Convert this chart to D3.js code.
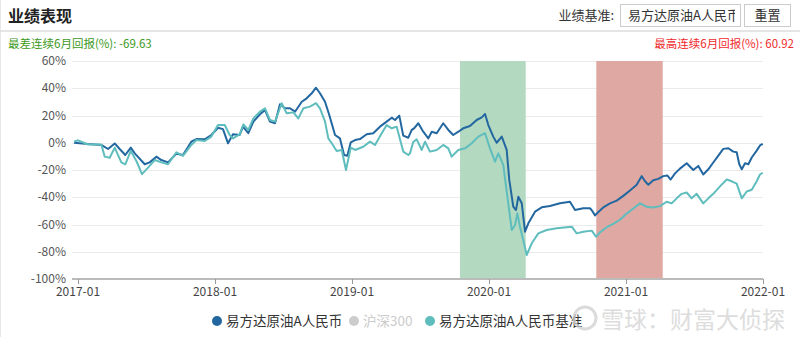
<!DOCTYPE html>
<html>
<head>
<meta charset="utf-8">
<script src="https://cdn.jsdelivr.net/npm/d3@7"></script>
<style>
  body { margin: 0; background: #fff; }
  svg { display: block; font-family: "Noto Sans CJK SC", "Noto Sans", sans-serif; }
</style>
</head>
<body>
<svg id="chart" width="800" height="337"></svg>
<script>
// time as decimal years, values in %
const fundT = [2016.971, 2017.073, 2017.170, 2017.219, 2017.268, 2017.304, 2017.345, 2017.385, 2017.414, 2017.487,
  2017.523, 2017.572, 2017.608, 2017.657, 2017.718, 2017.766, 2017.827, 2017.864, 2017.925, 2017.973,
  2018.022, 2018.058, 2018.095, 2018.131, 2018.180, 2018.204, 2018.243, 2018.280, 2018.328, 2018.365,
  2018.401, 2018.438, 2018.474, 2018.511, 2018.547, 2018.584, 2018.633, 2018.669, 2018.706, 2018.737,
  2018.766, 2018.803, 2018.834, 2018.876, 2018.912, 2018.942, 2018.966, 2018.991, 2019.022, 2019.058,
  2019.107, 2019.155, 2019.204, 2019.253, 2019.290, 2019.314, 2019.345, 2019.374, 2019.411, 2019.436,
  2019.453, 2019.484, 2019.520, 2019.557, 2019.582, 2019.618, 2019.666, 2019.703, 2019.739, 2019.776,
  2019.812, 2019.861, 2019.910, 2019.947, 2019.971, 2019.995, 2020.031, 2020.056, 2020.093, 2020.129,
  2020.148, 2020.177, 2020.197, 2020.214, 2020.239, 2020.263, 2020.287, 2020.336, 2020.385, 2020.445,
  2020.518, 2020.591, 2020.628, 2020.688, 2020.737, 2020.750, 2020.774, 2020.798, 2020.834, 2020.883,
  2020.932, 2020.980, 2021.029, 2021.078, 2021.114, 2021.139, 2021.163, 2021.199, 2021.236, 2021.272,
  2021.301, 2021.326, 2021.358, 2021.394, 2021.443, 2021.491, 2021.528, 2021.564, 2021.601, 2021.637,
  2021.674, 2021.710, 2021.747, 2021.783, 2021.808, 2021.827, 2021.845, 2021.869, 2021.893, 2021.918,
  2021.954, 2021.978, 2021.998];
const fund = [0, -1, -1.6, -4.6, -0.5, -4.6, -9, -3.6, -7.8, -15.8,
  -14.4, -10.2, -12.7, -14.4, -8, -9, 0.8, 2.7, 2.5, 5.7,
  11, 10, -0.4, 6.2, 5.7, 11.8, 7, 15.5, 20.9, 24,
  15.5, 14.3, 28.2, 25.3, 25.3, 22.8, 30.1, 32.6, 36.3, 40.4,
  36.3, 30.1, 20.4, 5.7, 3.2, -9, -9.5, 0.3, 2, 2.7,
  6.2, 7, 11.8, 15.5, 18.4, 16.7, 19.9, 5.2, 3.7, 9.4,
  10.6, 14.3, 8.1, 3.2, 8.1, 7, 14.3, 9.4, 5.7, 8.1,
  10.6, 12.3, 16.7, 18.6, 21.1, 13, 4.5, 0, 4.5, -5.3,
  -27.3, -46.9, -49.4, -39.6, -44.4, -65.3, -59.1, -50.6, -47.4, -46.4,
  -44.4, -43.3, -49.4, -48.1, -48.1, -49.5, -53.3, -50.8, -47.5, -44.5,
  -42.5, -39, -35, -30.8, -24.5, -28.3, -30.8, -27.5, -26.5, -24.5,
  -24, -27, -22.5, -19, -15, -20, -17, -23.3, -19.5, -14.5,
  -9.5, -4.5, -4, -6.5, -7, -15.8, -19.5, -15, -15.8, -10.8,
  -5.8, -2, -0.8];

const benchT = [2016.971, 2017.000, 2017.073, 2017.170, 2017.195, 2017.231, 2017.268, 2017.316, 2017.345, 2017.385,
  2017.426, 2017.467, 2017.506, 2017.560, 2017.608, 2017.657, 2017.718, 2017.766, 2017.827, 2017.864,
  2017.925, 2017.973, 2018.022, 2018.071, 2018.107, 2018.131, 2018.180, 2018.207, 2018.243, 2018.280,
  2018.328, 2018.365, 2018.401, 2018.438, 2018.487, 2018.523, 2018.572, 2018.608, 2018.645, 2018.693,
  2018.737, 2018.766, 2018.803, 2018.827, 2018.852, 2018.888, 2018.925, 2018.956, 2018.991, 2019.022,
  2019.082, 2019.131, 2019.168, 2019.217, 2019.253, 2019.290, 2019.326, 2019.374, 2019.411, 2019.423,
  2019.447, 2019.472, 2019.509, 2019.533, 2019.569, 2019.618, 2019.666, 2019.703, 2019.727, 2019.776,
  2019.825, 2019.874, 2019.922, 2019.971, 2020.007, 2020.044, 2020.068, 2020.104, 2020.134, 2020.166,
  2020.190, 2020.207, 2020.226, 2020.250, 2020.275, 2020.312, 2020.360, 2020.421, 2020.494, 2020.567,
  2020.604, 2020.640, 2020.688, 2020.750, 2020.781, 2020.810, 2020.859, 2020.907, 2020.956, 2021.005,
  2021.053, 2021.102, 2021.151, 2021.199, 2021.248, 2021.297, 2021.333, 2021.370, 2021.406, 2021.443,
  2021.479, 2021.516, 2021.564, 2021.601, 2021.637, 2021.686, 2021.735, 2021.772, 2021.808, 2021.845,
  2021.881, 2021.918, 2021.954, 2021.978, 2021.998];
const bench = [0.8, 1.8, -1.3, -1.3, -10.2, -11, -3.6, -14.4, -15.8, -6,
  -13.4, -23, -18.8, -12.7, -14.4, -15.8, -7, -9.7, -1.6, 2,
  1.3, 4.5, 13, 13, 5.7, 3.2, 6.2, 13.5, 9.4, 17.9,
  22.8, 25.3, 16.7, 15.5, 29, 21.6, 22.3, 17.9, 25.3, 26.5,
  29, 25.3, 15.5, 3.2, -0.4, -6, -5.3, -20, -3.6, -5.3,
  -2.9, 0.8, -1.6, 7, 13, 10.6, 11.8, -6.5, -9, -7.8,
  0.5, 2.5, -5.3, 0.8, -6.5, -5.3, -1.6, -4.1, -10.2, -5.3,
  -4.1, -0.4, 4.5, 7, -4.1, -13.9, -7.8, -16.3, -39.6, -64,
  -60.4, -51.8, -61.6, -71.4, -82.4, -73.8, -66.5, -64, -62.8, -62,
  -61.6, -66.5, -65.3, -64.5, -69, -65.8, -62, -59.5, -56.5, -52,
  -48.3, -44.5, -47, -47.5, -46.5, -43.3, -44.5, -40.8, -37.5, -36.5,
  -40.8, -37.5, -44.5, -40.8, -37.5, -32, -27, -28.3, -30, -40.8,
  -35.8, -34.5, -28.3, -23.3, -22];

// worst / best 6-month windows
const bandStart = [2019.788, 2020.783];
const bandEnd = [2020.268, 2021.268];
const bandColor = ['#b3d9c1', '#dfa8a3'];

const yTicks = [60, 40, 20, 0, -20, -40, -60, -80, -100];
const xTicks = [2017, 2018, 2019, 2020, 2021, 2022];

const seriesNames = ['易方达原油A人民币', '沪深300', '易方达原油A人民币基准'];
const seriesColors = ['#2367a0', '#cccccc', '#5fbdbd'];

const svg = d3.select('#chart');
const plotL = 72, plotR = 763, plotT = 61, plotB = 279;

const x = d3.scaleLinear().domain([2016.956, 2022]).range([plotL, plotR]);
const y = d3.scaleLinear().domain([-100, 60]).range([plotB, plotT]);

// left border
svg.append('line').attr('x1', 0.5).attr('x2', 0.5).attr('y1', 0).attr('y2', 337)
  .attr('stroke', '#e8e8e8');

// header
svg.append('text').attr('x', 8).attr('y', 22)
  .attr('font-size', 16).attr('font-weight', 'bold').attr('fill', '#222')
  .text('业绩表现');
svg.append('line').attr('x1', 0).attr('x2', 800).attr('y1', 31).attr('y2', 31)
  .attr('stroke', '#dcdcdc').attr('stroke-width', 1.5);

svg.append('text').attr('x', 614).attr('y', 20).attr('text-anchor', 'end')
  .attr('font-size', 13).attr('fill', '#333').text('业绩基准:');
svg.append('rect').attr('x', 620.5).attr('y', 4.5).attr('width', 120).attr('height', 22)
  .attr('fill', '#fff').attr('stroke', '#ccc');
svg.append('clipPath').attr('id', 'boxclip')
  .append('rect').attr('x', 621).attr('y', 5).attr('width', 114).attr('height', 21);
svg.append('text').attr('x', 628).attr('y', 20).attr('clip-path', 'url(#boxclip)')
  .attr('font-size', 13).attr('fill', '#333').text('易方达原油A人民币');
svg.append('rect').attr('x', 744.5).attr('y', 4.5).attr('width', 46).attr('height', 22)
  .attr('fill', '#fff').attr('stroke', '#ccc');
svg.append('text').attr('x', 767.5).attr('y', 20).attr('text-anchor', 'middle')
  .attr('font-size', 13).attr('fill', '#333').text('重置');

svg.append('text').attr('x', 8).attr('y', 48)
  .attr('font-size', 11.5).attr('fill', '#3d9a1c').text('最差连续6月回报(%):  -69.63');
svg.append('text').attr('x', 794).attr('y', 48).attr('text-anchor', 'end')
  .attr('font-size', 11.5).attr('fill', '#f02b2b').text('最高连续6月回报(%):  60.92');

// grid + y labels
svg.append('g').selectAll('line').data(yTicks.filter(d => d !== -100)).join('line')
  .attr('x1', plotL).attr('x2', plotR)
  .attr('y1', d => Math.round(y(d)) + 0.5).attr('y2', d => Math.round(y(d)) + 0.5)
  .attr('stroke', '#ebebeb');
svg.append('g').selectAll('text').data(yTicks).join('text')
  .attr('x', 66).attr('y', d => y(d) + 4).attr('text-anchor', 'end')
  .attr('font-size', 12).attr('fill', '#555')
  .text(d => d + '%');

// bands
svg.append('g').selectAll('rect').data(bandStart).join('rect')
  .attr('x', (d, i) => x(d)).attr('y', plotT)
  .attr('width', (d, i) => x(bandEnd[i]) - x(d)).attr('height', plotB - plotT)
  .attr('fill', (d, i) => bandColor[i]);

// x axis
svg.append('line').attr('x1', plotL).attr('x2', plotR).attr('y1', plotB).attr('y2', plotB)
  .attr('stroke', '#bbb').attr('stroke-width', 2);
svg.append('g').selectAll('line').data(xTicks).join('line')
  .attr('x1', d => Math.round(x(d)) + 0.5).attr('x2', d => Math.round(x(d)) + 0.5)
  .attr('y1', plotB).attr('y2', plotB + 5).attr('stroke', '#999');
svg.append('g').selectAll('text').data(xTicks).join('text')
  .attr('x', d => x(d)).attr('y', 296).attr('text-anchor', 'middle')
  .attr('font-size', 12).attr('fill', '#444')
  .text(d => d + '-01');

// lines
const line = d3.line().x(d => x(d[0])).y(d => y(d[1]));
svg.append('path').datum(d3.zip(fundT, fund))
  .attr('d', line).attr('fill', 'none')
  .attr('stroke', seriesColors[0]).attr('stroke-width', 2).attr('stroke-linejoin', 'round');
svg.append('path').datum(d3.zip(benchT, bench))
  .attr('d', line).attr('fill', 'none')
  .attr('stroke', seriesColors[2]).attr('stroke-width', 2).attr('stroke-linejoin', 'round');

// legend
const legendX = [217, 354, 430];
const legend = svg.append('g');
seriesNames.forEach((name, i) => {
  legend.append('circle').attr('cx', legendX[i]).attr('cy', 321).attr('r', 5)
    .attr('fill', seriesColors[i]);
  legend.append('text').attr('x', legendX[i] + 9).attr('y', 326)
    .attr('font-size', 13.5).attr('fill', i === 1 ? '#ccc' : '#333')
    .text(name);
});

// watermark
const wm = svg.append('g').attr('opacity', 0.75);
wm.append('circle').attr('cx', 585).attr('cy', 318).attr('r', 11)
  .attr('fill', 'none').attr('stroke', '#cfcfcf').attr('stroke-width', 3);
wm.append('text').attr('x', 601).attr('y', 328)
  .attr('font-size', 23).attr('fill', '#d2d2d2')
  .text('雪球：财富大侦探');
</script>
</body>
</html>
